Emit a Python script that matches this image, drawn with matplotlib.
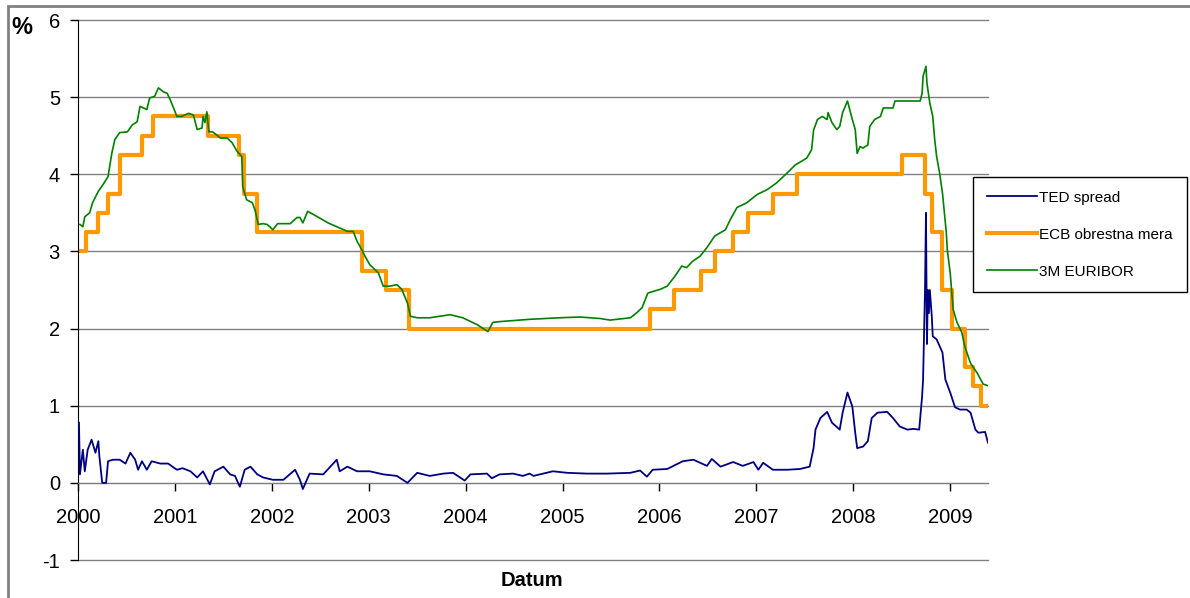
import matplotlib.pyplot as plt
from matplotlib.patches import Rectangle

plt.rcParams['font.family'] = ['Liberation Sans', 'DejaVu Sans']
plt.rcParams['axes.unicode_minus'] = False

# ECB main refinancing rate (steps, value holds until next date)
ecb_t = [2000.00, 2000.08, 2000.21, 2000.31, 2000.43, 2000.66, 2000.77,
         2001.34, 2001.66, 2001.71, 2001.85, 2002.93, 2003.18, 2003.42,
         2005.90, 2006.15, 2006.43, 2006.57, 2006.76, 2006.91, 2007.17,
         2007.42, 2008.50, 2008.74, 2008.81, 2008.92, 2009.02, 2009.15,
         2009.24, 2009.32, 2009.39]
ecb_v = [3.00, 3.25, 3.50, 3.75, 4.25, 4.50, 4.75,
         4.50, 4.25, 3.75, 3.25, 2.75, 2.50, 2.00,
         2.25, 2.50, 2.75, 3.00, 3.25, 3.50, 3.75,
         4.00, 4.25, 3.75, 3.25, 2.50, 2.00, 1.50,
         1.25, 1.00, 1.00]

# 3M EURIBOR
eur_t = [2000.02, 2000.05, 2000.07, 2000.12, 2000.15, 2000.21, 2000.26, 2000.31,
         2000.35, 2000.38, 2000.43, 2000.51, 2000.56, 2000.61, 2000.64, 2000.71,
         2000.74, 2000.79, 2000.83, 2000.88, 2000.92, 2000.95, 2000.98, 2001.02,
         2001.07, 2001.14, 2001.19, 2001.23, 2001.28, 2001.29, 2001.31, 2001.33,
         2001.35, 2001.39, 2001.47, 2001.54, 2001.59, 2001.64, 2001.69, 2001.70,
         2001.74, 2001.80, 2001.83, 2001.86, 2001.91, 2001.95, 2001.98, 2002.01,
         2002.06, 2002.19, 2002.26, 2002.29, 2002.32, 2002.37, 2002.47, 2002.58,
         2002.67, 2002.78, 2002.84, 2002.88, 2002.93, 2002.96, 2003.01, 2003.10,
         2003.15, 2003.22, 2003.29, 2003.34, 2003.40, 2003.43, 2003.50, 2003.63,
         2003.84, 2003.97, 2004.12, 2004.23, 2004.28, 2004.35, 2004.66, 2004.97,
         2005.18, 2005.39, 2005.49, 2005.70, 2005.77, 2005.82, 2005.88, 2006.01,
         2006.08, 2006.16, 2006.23, 2006.28, 2006.34, 2006.42, 2006.49, 2006.57,
         2006.68, 2006.73, 2006.80, 2006.90, 2007.01, 2007.11, 2007.21, 2007.32,
         2007.40, 2007.52, 2007.57, 2007.59, 2007.63, 2007.68, 2007.73, 2007.74,
         2007.78, 2007.83, 2007.86, 2007.89, 2007.94, 2007.99, 2008.02, 2008.04,
         2008.07, 2008.10, 2008.15, 2008.17, 2008.22, 2008.28, 2008.31, 2008.41,
         2008.43, 2008.69, 2008.71, 2008.72, 2008.75, 2008.76, 2008.79, 2008.82,
         2008.84, 2008.86, 2008.89, 2008.92, 2008.94, 2008.96, 2008.97, 2009.00,
         2009.03, 2009.07, 2009.12, 2009.15, 2009.21, 2009.28, 2009.34, 2009.39]
eur_v = [3.35, 3.32, 3.45, 3.50, 3.63, 3.78, 3.87, 3.97,
         4.28, 4.45, 4.54, 4.55, 4.64, 4.68, 4.88, 4.84,
         4.99, 5.01, 5.12, 5.07, 5.05, 4.97, 4.88, 4.75,
         4.75, 4.79, 4.77, 4.58, 4.60, 4.75, 4.67, 4.81,
         4.55, 4.55, 4.47, 4.47, 4.41, 4.30, 4.23, 3.84,
         3.67, 3.63, 3.52, 3.35, 3.36, 3.35, 3.32, 3.28,
         3.36, 3.36, 3.44, 3.44, 3.37, 3.52, 3.45, 3.37,
         3.32, 3.26, 3.26, 3.13, 3.02, 2.94, 2.83, 2.72,
         2.55, 2.55, 2.57, 2.51, 2.33, 2.16, 2.14, 2.14,
         2.18, 2.14, 2.05, 1.96, 2.08, 2.09, 2.12, 2.14,
         2.15, 2.13, 2.11, 2.14, 2.21, 2.27, 2.46, 2.51,
         2.55, 2.68, 2.81, 2.79, 2.87, 2.94, 3.05, 3.20,
         3.28, 3.41, 3.57, 3.63, 3.74, 3.80, 3.89, 4.02,
         4.12, 4.21, 4.32, 4.57, 4.71, 4.75, 4.71, 4.80,
         4.67, 4.58, 4.62, 4.80, 4.95, 4.71, 4.58, 4.27,
         4.36, 4.34, 4.38, 4.62, 4.71, 4.75, 4.86, 4.86,
         4.95, 4.95, 5.05, 5.27, 5.40, 5.18, 4.92, 4.75,
         4.45, 4.23, 4.02, 3.76, 3.50, 3.24, 3.02, 2.72,
         2.25, 2.08, 1.95, 1.77, 1.55, 1.42, 1.28, 1.26]

# TED spread
ted_t = [2000.01, 2000.02, 2000.05, 2000.07, 2000.10, 2000.14, 2000.18, 2000.21,
         2000.22, 2000.25, 2000.29, 2000.31, 2000.36, 2000.43, 2000.49, 2000.54,
         2000.59, 2000.62, 2000.66, 2000.71, 2000.76, 2000.85, 2000.93, 2001.02,
         2001.08, 2001.16, 2001.23, 2001.29, 2001.36, 2001.41, 2001.50, 2001.57,
         2001.62, 2001.67, 2001.72, 2001.78, 2001.85, 2001.91, 2002.01, 2002.12,
         2002.24, 2002.29, 2002.32, 2002.39, 2002.53, 2002.67, 2002.70, 2002.78,
         2002.88, 2003.01, 2003.15, 2003.29, 2003.40, 2003.50, 2003.63, 2003.77,
         2003.87, 2003.99, 2004.05, 2004.22, 2004.27, 2004.35, 2004.49, 2004.59,
         2004.66, 2004.70, 2004.90, 2005.05, 2005.25, 2005.46, 2005.70, 2005.80,
         2005.87, 2005.93, 2006.08, 2006.24, 2006.35, 2006.49, 2006.54, 2006.63,
         2006.76, 2006.86, 2006.97, 2007.02, 2007.07, 2007.17, 2007.32, 2007.45,
         2007.55, 2007.59, 2007.61, 2007.66, 2007.73, 2007.78, 2007.86, 2007.89,
         2007.94, 2007.99, 2008.02, 2008.04, 2008.10, 2008.15, 2008.19, 2008.25,
         2008.35, 2008.41, 2008.48, 2008.56, 2008.62, 2008.68, 2008.71, 2008.72,
         2008.74, 2008.75, 2008.76, 2008.77, 2008.78, 2008.79, 2008.81, 2008.82,
         2008.86, 2008.92, 2008.95, 2009.00, 2009.05, 2009.10, 2009.17, 2009.21,
         2009.26, 2009.29, 2009.36, 2009.39]
ted_v = [0.78, 0.11, 0.43, 0.15, 0.43, 0.56, 0.39, 0.54,
         0.35, 0.00, 0.00, 0.28, 0.30, 0.30, 0.25, 0.39,
         0.30, 0.17, 0.28, 0.17, 0.28, 0.25, 0.25, 0.17,
         0.19, 0.15, 0.07, 0.15, -0.02, 0.15, 0.21, 0.11,
         0.09, -0.05, 0.17, 0.21, 0.11, 0.07, 0.04, 0.04,
         0.17, 0.04, -0.08, 0.12, 0.11, 0.30, 0.15, 0.21,
         0.15, 0.15, 0.11, 0.09, 0.00, 0.13, 0.09, 0.12,
         0.13, 0.03, 0.11, 0.12, 0.06, 0.11, 0.12, 0.09,
         0.12, 0.09, 0.15, 0.13, 0.12, 0.12, 0.13, 0.16,
         0.08, 0.17, 0.18, 0.28, 0.30, 0.22, 0.31, 0.21,
         0.27, 0.22, 0.27, 0.17, 0.26, 0.17, 0.17, 0.18,
         0.21, 0.45, 0.69, 0.84, 0.92, 0.78, 0.69, 0.91,
         1.17, 0.99, 0.65, 0.45, 0.47, 0.54, 0.84, 0.91,
         0.92, 0.84, 0.73, 0.69, 0.70, 0.69, 1.12, 1.34,
         2.50, 3.50, 1.80, 2.50, 2.20, 2.50, 2.16, 1.90,
         1.86, 1.69, 1.34, 1.17, 0.98, 0.95, 0.95, 0.91,
         0.69, 0.65, 0.66, 0.52]

years = list(range(2000, 2010))
yticks = list(range(-1, 7))

fig = plt.figure(figsize=(11.9, 5.98), dpi=100)
ax = fig.add_axes([78 / 1190, 1 - 560 / 598, 910 / 1190, 540 / 598])

for y in yticks:
    ax.axhline(y, color='#808080', lw=1.0, zorder=1, clip_on=False)

ax.plot(ted_t, ted_v, color='#000080', lw=1.3, label='TED spread', zorder=3)
ax.plot(ecb_t, ecb_v, color='#FF9900', lw=3.0, drawstyle='steps-post',
        label='ECB obrestna mera', zorder=2)
ax.plot(eur_t, eur_v, color='#008000', lw=1.2, label='3M EURIBOR', zorder=4)

ax.set_xlim(2000, 2009.39)
ax.set_ylim(-1, 6)
ax.set_xticks(years)
ax.set_xticklabels([str(y) for y in years])
ax.set_yticks(yticks)

for s in ['top', 'right']:
    ax.spines[s].set_visible(False)
ax.spines['bottom'].set_position(('data', 0))
ax.spines['bottom'].set_color('#808080')
ax.spines['left'].set_color('black')
ax.tick_params(axis='x', direction='out', length=6, width=1, pad=12,
               labelsize=14.5, color='black')
ax.tick_params(axis='y', direction='out', length=6, width=1, pad=7,
               labelsize=14.5, color='black')

fig.text(22 / 1190, 1 - 27 / 598, '%', fontsize=17, fontweight='bold',
         ha='center', va='center')
fig.text(532 / 1190, 1 - 581 / 598, 'Datum', fontsize=14.5, fontweight='bold',
         ha='center', va='center')

leg = fig.legend(loc='upper left', bbox_to_anchor=(973 / 1190, 1 - 177 / 598),
                 fontsize=11, frameon=True, fancybox=False, framealpha=1,
                 edgecolor='black', handlelength=3.3, handletextpad=0.15,
                 labelspacing=1.5, borderpad=0.9, borderaxespad=0)
leg.get_frame().set_linewidth(1.0)

fig.add_artist(Rectangle((8 / 1190, -0.5), 2, 0.5 + (1 - 6 / 598),
                         transform=fig.transFigure, fill=False,
                         ec='#808080', lw=2, clip_on=False))

fig.savefig('out.png', dpi=100)
